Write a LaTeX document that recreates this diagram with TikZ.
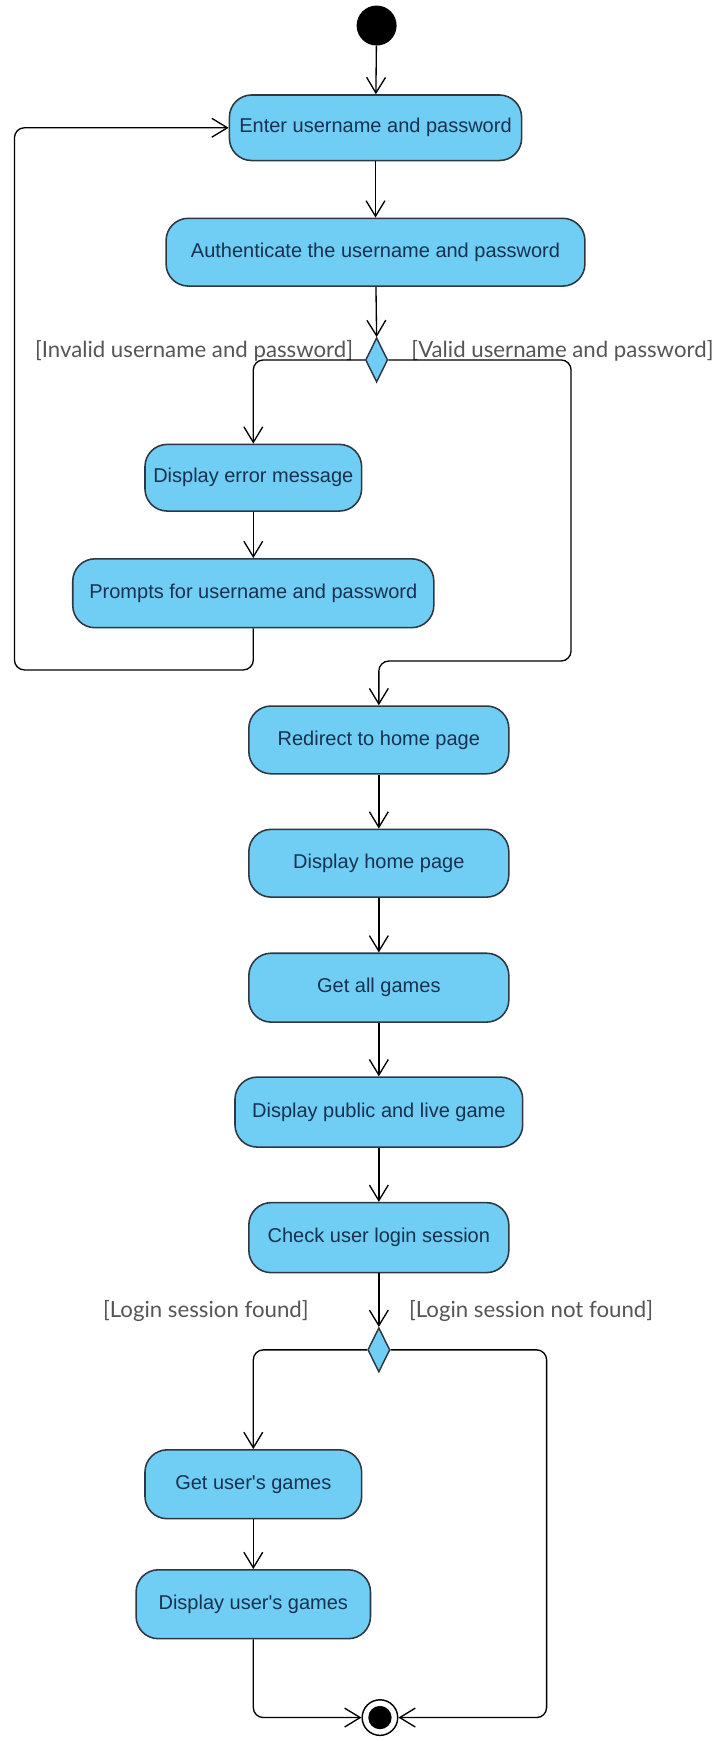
\documentclass[tikz,border=0pt]{standalone}
\usepackage{fontspec}
\setmainfont{Liberation Sans}
\newfontfamily\guardfont{Lato}
\usetikzlibrary{arrows.meta,shapes.geometric}
\definecolor{actfill}{RGB}{112,205,244}
\definecolor{actline}{RGB}{45,55,65}
\definecolor{acttext}{RGB}{22,50,78}
\definecolor{guardtext}{RGB}{85,85,85}
\begin{document}
\begin{tikzpicture}[x=1pt,y=-1pt,
  action/.style={draw=actline, fill=actfill, line width=1.4pt, rounded corners=20pt,
    inner sep=0pt, text=acttext, font=\fontsize{18}{21}\selectfont},
  decision/.style={draw=actline, fill=actfill, line width=1.3pt, diamond, inner sep=0pt,
    minimum width=20pt, minimum height=40pt},
  guard/.style={text=guardtext, font=\guardfont\fontsize{20}{23}\selectfont, inner sep=0pt},
  flow/.style={draw=black, line width=1.2pt, rounded corners=9pt,
    -{Straight Barb[length=14pt,width=17pt,line width=1.2pt]}},
  plain/.style={draw=black, line width=1.2pt, rounded corners=9pt}]
\useasboundingbox (0,0) rectangle (649,1568);

% start and end points
\node[circle, fill=black, minimum size=36pt, inner sep=0pt] (start) at (339,23) {};
\node[circle, draw=black, fill=white, line width=1.3pt, minimum size=32pt, inner sep=0pt] (final) at (342,1546) {};
\fill[black] (final.center) circle (10.5pt);

% activities
\node[action, minimum width=263pt, minimum height=59pt] (enter) at (338,115) {Enter username and password};
\node[action, minimum width=377pt, minimum height=61pt] (auth) at (338,227) {Authenticate the username and password};
\node[decision] (dec1) at (339,324) {};
\node[action, minimum width=195pt, minimum height=60pt] (err) at (228,430) {Display error message};
\node[action, minimum width=325pt, minimum height=62pt] (prompt) at (228,534) {Prompts for username and password};
\node[action, minimum width=234pt, minimum height=61pt] (redirect) at (341,666) {Redirect to home page};
\node[action, minimum width=234pt, minimum height=61pt] (home) at (341,777) {Display home page};
\node[action, minimum width=234pt, minimum height=62pt] (getall) at (341,889) {Get all games};
\node[action, minimum width=259pt, minimum height=63pt] (pub) at (341,1001) {Display public and live game};
\node[action, minimum width=234pt, minimum height=63pt] (check) at (341,1114) {Check user login session};
\node[decision] (dec2) at (341,1215) {};
\node[action, minimum width=195pt, minimum height=62pt] (getug) at (228,1336) {Get user\textquotesingle s games};
\node[action, minimum width=211pt, minimum height=62pt] (dispug) at (228,1444) {Display user\textquotesingle s games};

% guard conditions
\node[guard, anchor=east] (gInvalid) at (318,316) {[Invalid username and password]};
\node[guard, anchor=west] (gValid) at (370,316) {[Valid username and password]};
\node[guard, anchor=east] (gFound) at (278,1180) {[Login session found]};
\node[guard, anchor=west] (gNotFound) at (368,1180) {[Login session not found]};

% routing points
\coordinate (loopCorner) at (13,603);
\coordinate (validCorner) at (514,595);
\coordinate (notFoundCorner) at (492,1546);

% flows
\draw[flow] (start) -- (enter);
\draw[flow] (enter) -- (auth);
\draw[flow] (auth) -- (dec1.north);
\draw[flow] (dec1.west) -| (err.north);
\draw[flow] (err) -- (prompt);
\draw[flow] (prompt.south) |- (loopCorner) |- (enter.west);
\draw[flow] (dec1.east) -| (validCorner) -| (redirect.north);
\draw[flow] (redirect) -- (home);
\draw[flow] (home) -- (getall);
\draw[flow] (getall) -- (pub);
\draw[flow] (pub) -- (check);
\draw[flow] (check) -- (dec2.north);
\draw[flow] (dec2.west) -| (getug.north);
\draw[flow] (getug) -- (dispug);
\draw[flow] (dispug.south) |- (final.west);
\draw[flow] (dec2.east) -| (notFoundCorner) -- (final.east);
\end{tikzpicture}
\end{document}
